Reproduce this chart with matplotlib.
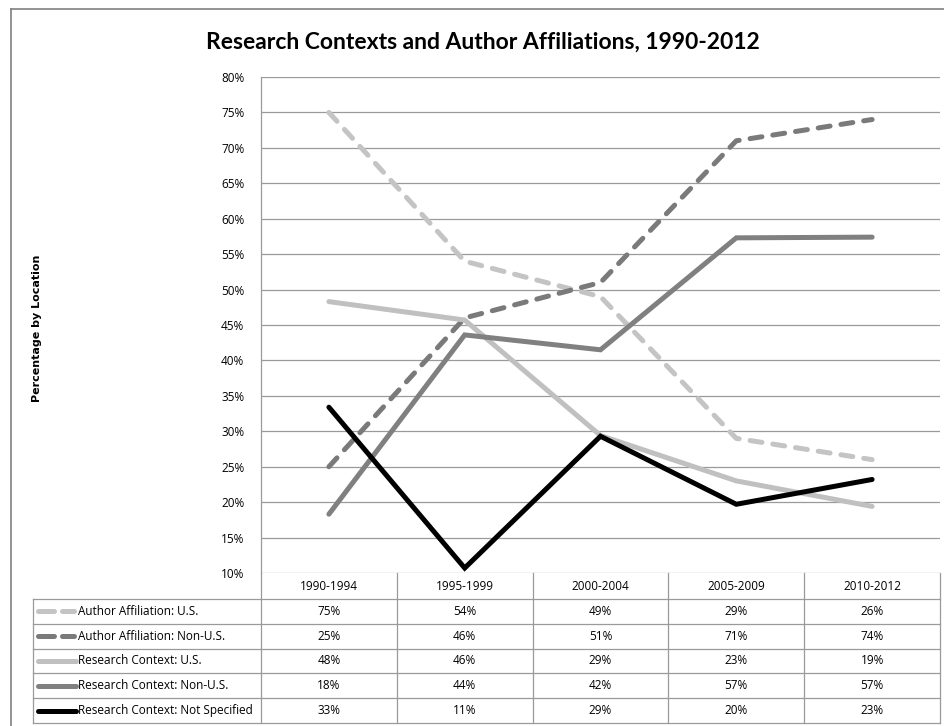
import matplotlib
matplotlib.use("Agg")
import matplotlib.pyplot as plt
from matplotlib.lines import Line2D

# data
periods = ["1990-1994", "1995-1999", "2000-2004", "2005-2009", "2010-2012"]
author_us = [75, 54, 49, 29, 26]
author_non_us = [25, 46, 51, 71, 74]
context_us = [48.3, 45.7, 29.4, 23.0, 19.4]
context_non_us = [18.3, 43.6, 41.5, 57.3, 57.4]
context_not_spec = [33.4, 10.7, 29.3, 19.7, 23.2]

series = [
    ("Author Affiliation: U.S.", author_us, "#c4c4c4", True),
    ("Author Affiliation: Non-U.S.", author_non_us, "#7a7a7a", True),
    ("Research Context: U.S.", context_us, "#c0c0c0", False),
    ("Research Context: Non-U.S.", context_non_us, "#808080", False),
    ("Research Context: Not Specified", context_not_spec, "#000000", False),
]

W, H = 944, 726
fig = plt.figure(figsize=(W / 100, H / 100), dpi=100)
TXT = "Open Sans"
FS = 8.5
GRID = "#9a9a9a"


def fx(px):
    return px / W


def fy(py):
    return 1 - py / H


# outer frame of the chart object
fig.add_artist(Line2D([fx(11), fx(11)], [fy(9), 0], color="#808080", lw=1.2))
fig.add_artist(Line2D([fx(11), 1], [fy(9), fy(9)], color="#808080", lw=1.2))

# plot area
left, right, top, bot = 261, 940, 77, 573
ax = fig.add_axes([fx(left), fy(bot), fx(right - left), (bot - top) / H])
x = range(len(periods))
for name, vals, col, dashed in series:
    if dashed:
        ax.plot(x, vals, color=col, lw=3.6, dashes=(2.4, 2.2),
                dash_capstyle="round", solid_capstyle="round")
    else:
        ax.plot(x, vals, color=col, lw=3.6, solid_capstyle="round",
                solid_joinstyle="miter")

ax.set_xlim(-0.5, len(periods) - 0.5)
ax.set_ylim(10, 80)
yt = list(range(10, 81, 5))
ax.set_yticks(yt)
ax.set_yticklabels([f"{v}%" for v in yt], fontsize=FS, family=TXT)
ax.set_xticks([])
ax.tick_params(axis="y", length=0, pad=12)
ax.grid(axis="y", color=GRID, lw=0.9)
ax.set_axisbelow(True)
for s in ["top", "right", "bottom"]:
    ax.spines[s].set_visible(False)
ax.spines["left"].set_color(GRID)
ax.spines["left"].set_linewidth(0.9)

fig.text(fx(483), fy(42), "Research Contexts and Author Affiliations, 1990-2012",
         ha="center", va="center", fontsize=16.5, fontweight="bold", family="Lato")
fig.text(fx(37), fy(328), "Percentage by Location", rotation=90, ha="center",
         va="center", fontsize=8, fontweight="bold", family="DejaVu Sans")

# data table below the axis
tab = fig.add_axes([0, 0, 1, 1])
tab.set_xlim(0, W)
tab.set_ylim(H, 0)
tab.axis("off")
col_w = (right - left) / len(periods)
edges = [left + i * col_w for i in range(len(periods) + 1)]
hdr_bot = 599
row_h = (723 - hdr_bot) / len(series)
tcol = GRID

for e in edges:
    tab.plot([e, e], [bot, 723], color=tcol, lw=0.9)
tab.plot([33, 33], [hdr_bot, 723], color=tcol, lw=0.9)
for i in range(len(series) + 1):
    yy = hdr_bot + i * row_h
    tab.plot([33, right], [yy, yy], color=tcol, lw=0.9)

for i, p in enumerate(periods):
    tab.text(left + (i + 0.5) * col_w, (bot + hdr_bot) / 2, p, ha="center",
             va="center", fontsize=FS, family=TXT)

for r, (name, vals, col, dashed) in enumerate(series):
    yc = hdr_bot + (r + 0.5) * row_h
    if dashed:
        tab.plot([38, 54], [yc, yc], color=col, lw=3.6, solid_capstyle="round")
        tab.plot([62, 74], [yc, yc], color=col, lw=3.6, solid_capstyle="round")
    else:
        tab.plot([38, 76], [yc, yc], color=col, lw=3.6, solid_capstyle="round")
    tab.text(78, yc, name, ha="left", va="center", fontsize=FS, family=TXT)
    for i, v in enumerate(vals):
        tab.text(left + (i + 0.5) * col_w, yc, f"{v:.0f}%", ha="center",
                 va="center", fontsize=FS, family=TXT)

fig.savefig("out.png", dpi=100)
